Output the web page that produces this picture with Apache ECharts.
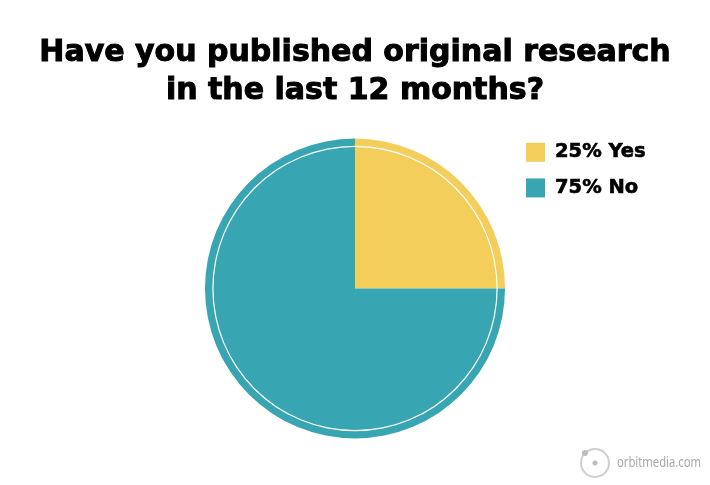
<!DOCTYPE html>
<html>
<head>
<meta charset="utf-8">
<title>Original research</title>
<script src="https://cdn.jsdelivr.net/npm/echarts@6/dist/echarts.min.js"></script>
<style>
html,body{margin:0;padding:0;background:#fff}
#chart{width:710px;height:485px}
</style>
</head>
<body>
<div id="chart"></div>
<script>
const titleLines = ['Have you published original research', 'in the last 12 months?']
const categories = ['25% Yes', '75% No']
const values = [25, 75]
const colors = ['#f4ce5a', '#38a5b3']
const watermark = 'orbitmedia.com'

const chart = echarts.init(document.getElementById('chart'))
chart.setOption({
    animation: false,
    backgroundColor: '#fff',
    color: colors,
    title: {
        text: titleLines.join('\n'),
        left: 350,
        top: 29,
        textAlign: 'center',
        textStyle: {
            fontFamily: 'DejaVu Sans',
            fontWeight: 'bold',
            fontSize: 30,
            lineHeight: 38,
            color: '#000',
            textBorderColor: '#000',
            textBorderWidth: 1
        }
    },
    legend: {
        orient: 'vertical',
        left: 521,
        top: 137,
        itemWidth: 19,
        itemHeight: 19,
        itemGap: 15,
        icon: 'rect',
        selectedMode: false,
        data: categories,
        textStyle: {
            fontFamily: 'DejaVu Sans',
            fontWeight: 'bold',
            fontSize: 19.5,
            color: '#000',
            padding: [2, 0, 0, 5],
            textBorderColor: '#000',
            textBorderWidth: 0.6
        }
    },
    series: [
        {
            type: 'pie',
            center: [355, 288.5],
            radius: [0, 150],
            startAngle: 90,
            clockwise: true,
            silent: true,
            label: {show: false},
            labelLine: {show: false},
            data: categories.map((name, i) => ({name, value: values[i]}))
        },
        {
            // thin white ring inside the rim
            type: 'pie',
            center: [355, 288.5],
            radius: [141.5, 142.7],
            silent: true,
            z: 3,
            legendHoverLink: false,
            label: {show: false},
            labelLine: {show: false},
            itemStyle: {color: '#fff'},
            data: [{name: 'ring', value: 1}]
        }
    ],
    graphic: [
        {type: 'circle', shape: {cx: 595, cy: 463, r: 14}, style: {fill: 'none', stroke: '#cfcfcf', lineWidth: 2}},
        {type: 'circle', shape: {cx: 595, cy: 463, r: 2.5}, style: {fill: '#bdbdbd'}},
        {type: 'circle', shape: {cx: 585, cy: 453, r: 3}, style: {fill: '#bdbdbd'}},
        {type: 'text', x: 617, y: 463, scaleX: 0.75, style: {
            text: watermark,
            fill: '#a8a8a8',
            font: '15px "Noto Sans"',
            textVerticalAlign: 'middle'
        }}
    ]
})
</script>
</body>
</html>
